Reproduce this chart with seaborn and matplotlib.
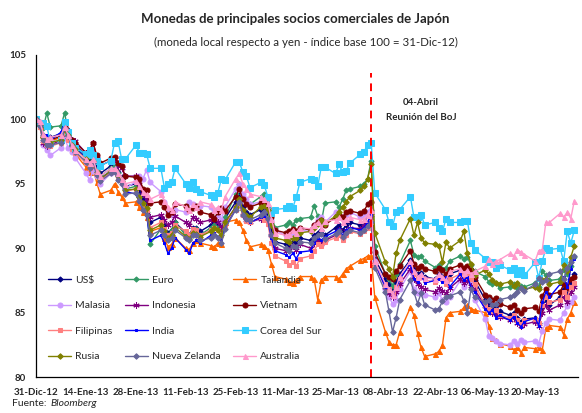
import pandas as pd
import matplotlib
matplotlib.use("Agg")
import matplotlib.pyplot as plt
import seaborn as sns

# -----------------------------
# Data: index of local currency vs yen (base 100 = 31-Dic-12), business days
# -----------------------------
dates = pd.bdate_range("2012-12-31", "2013-05-31")

usd = [100.0,
       99.8, 98.8, 98.5, 98.6,
       98.9, 99.6, 99.2, 98.4, 98.0,
       97.2, 96.8, 97.0, 96.3, 95.8,
       96.4, 96.2, 95.9, 95.5, 94.8,
       95.0, 94.4, 93.9, 93.5, 92.0,
       92.4, 91.8, 91.2, 91.4, 92.0,
       91.2, 91.0, 91.6, 91.6, 91.3,
       91.8, 92.0, 91.9, 91.5, 92.3,
       93.6, 94.1, 93.2, 92.8, 92.6,
       93.0, 93.0, 92.7, 91.5, 90.5,
       90.3, 90.2, 90.5, 90.4, 90.8,
       90.6, 91.0, 91.2, 91.4, 91.0,
       91.6, 91.8, 91.4, 91.8, 92.0,
       91.8, 92.0, 92.5, 93.0, 89.2,
       87.6, 87.2, 86.9, 87.4, 88.0,
       89.1, 88.4, 88.0, 88.1, 87.8,
       87.6, 88.0, 87.8, 87.4, 88.0,
       88.3, 88.0, 88.2, 87.9, 87.5,
       86.0, 85.6, 85.4, 85.5, 85.1,
       84.8, 85.0, 84.6, 84.3, 84.5,
       84.6, 84.2, 85.4, 86.0, 85.6,
       86.2, 86.8, 86.4, 87.4, 88.0]

euro = [100.0,
        99.6, 99.3, 100.5, 99.4,
        99.5, 100.5, 99.0, 98.4, 97.9,
        97.0, 96.6, 96.9, 96.0, 95.6,
        96.2, 96.4, 95.8, 95.4, 94.6,
        94.8, 94.0, 93.4, 92.8, 90.3,
        91.5, 91.2, 91.0, 91.4, 92.0,
        91.0, 90.8, 91.3, 91.5, 91.0,
        91.6, 91.8, 91.6, 91.2, 92.4,
        94.2, 95.0, 94.0, 93.6, 93.4,
        94.0, 94.2, 93.8, 92.6, 91.6,
        91.8, 92.0, 91.8, 92.2, 92.3,
        92.4, 93.3, 92.5, 92.0, 93.5,
        93.6, 93.2, 93.8, 94.5, 94.6,
        94.8, 95.0, 95.4, 96.8, 90.2,
        88.0, 87.6, 87.1, 88.0, 88.8,
        90.6, 89.5, 89.3, 89.4, 89.0,
        88.5, 88.7, 88.4, 88.5, 89.0,
        89.4, 89.2, 89.3, 88.7, 88.2,
        87.8, 87.4, 87.2, 87.3, 86.9,
        87.0, 87.2, 86.9, 87.1, 87.0,
        87.3, 87.0, 88.2, 87.9, 87.5,
        87.6, 88.3, 88.0, 88.6, 89.3]

tailandia = [100.0,
             99.5, 98.4, 98.6, 98.3,
             98.6, 99.6, 98.6, 97.8, 97.3,
             96.3, 95.9, 96.2, 95.1, 94.2,
             94.5, 95.0, 94.4, 94.0, 93.5,
             93.6, 93.2, 92.8, 92.4, 91.3,
             91.6, 90.8, 90.1, 90.3, 90.8,
             90.0, 89.9, 90.4, 90.6, 90.4,
             90.2, 90.1, 90.4, 90.3, 92.0,
             92.2, 92.0, 91.4, 90.6, 90.1,
             90.3, 90.2, 89.9, 88.8, 87.8,
             87.6, 87.4, 87.3, 87.5, 87.8,
             87.8, 87.6, 86.0, 87.5, 87.8,
             87.8, 87.6, 88.0, 88.4, 88.6,
             89.1, 89.2, 89.4, 89.4, 86.2,
             83.5, 82.7, 82.5, 82.5, 83.5,
             85.4, 84.8, 83.4, 82.3, 81.6,
             81.8, 82.0, 82.5, 84.6, 85.0,
             85.1, 85.4, 85.6, 85.3, 85.2,
             85.0, 84.0, 83.0, 82.9, 82.6,
             82.4, 82.1, 82.3, 81.9, 82.3,
             82.2, 82.3, 82.1, 83.8, 84.0,
             83.9, 83.3, 84.5, 85.0, 85.8]

malasia = [100.0,
           99.6, 98.0, 97.6, 97.2,
           97.8, 98.6, 97.8, 97.5, 97.0,
           95.8, 95.3, 96.0, 95.6, 95.0,
           95.8, 96.0, 95.6, 95.2, 94.6,
           95.2, 95.6, 95.4, 96.1, 95.1,
           94.4, 93.6, 92.8, 92.6, 93.0,
           92.8, 93.6, 93.4, 93.2, 93.3,
           93.2, 93.0, 92.6, 92.2, 93.2,
           94.6, 95.0, 94.2, 93.8, 93.4,
           93.6, 93.4, 93.0, 92.2, 91.4,
           91.0, 90.8, 91.2, 91.0, 91.4,
           91.3, 91.8, 92.2, 92.4, 92.0,
           92.8, 92.6, 92.4, 92.6, 92.8,
           92.4, 92.6, 92.8, 93.0, 89.0,
           86.8, 86.2, 85.7, 86.0, 86.8,
           88.2, 86.8, 86.5, 86.6, 86.4,
           86.2, 86.5, 86.0, 85.8, 86.2,
           87.5, 87.0, 88.0, 87.2, 86.0,
           84.5, 83.2, 83.0, 82.8, 82.6,
           82.5, 82.8, 82.6, 82.9, 82.7,
           82.8, 82.6, 83.6, 84.2, 84.5,
           84.4, 85.0, 85.5, 85.8, 86.2]

indonesia = [100.0,
             99.7, 98.2, 97.9, 98.0,
             98.4, 99.0, 98.6, 98.4, 98.3,
             97.4, 97.2, 98.2, 97.0, 96.4,
             96.8, 96.9, 96.4, 96.2, 95.6,
             95.6, 95.0, 94.2, 93.8, 92.4,
             92.6, 92.2, 91.8, 92.0, 92.5,
             92.0, 91.8, 92.4, 92.3, 92.0,
             92.2, 92.3, 92.0, 91.6, 92.0,
             93.2, 93.6, 92.6, 92.2, 92.0,
             92.3, 92.4, 92.2, 91.0, 90.0,
             89.8, 89.9, 90.2, 89.9, 90.3,
             90.0, 90.4, 90.6, 90.3, 90.6,
             91.0, 91.4, 90.9, 91.3, 91.6,
             91.5, 91.7, 92.0, 92.6, 88.8,
             87.0, 86.5, 86.2, 86.6, 87.2,
             88.4, 87.6, 87.2, 87.0, 86.8,
             86.6, 86.9, 86.7, 86.5, 86.9,
             87.6, 87.3, 87.5, 87.1, 86.8,
             85.5, 85.2, 85.0, 84.9, 84.7,
             84.4, 84.6, 84.2, 84.0, 84.1,
             84.3, 84.0, 85.0, 85.6, 85.2,
             85.6, 86.2, 85.8, 86.6, 87.0]

vietnam = [100.0,
           99.6, 98.6, 98.2, 98.4,
           98.7, 99.4, 99.0, 98.4, 98.2,
           97.4, 97.6, 98.2, 97.2, 96.6,
           97.0, 97.1, 96.6, 96.4, 95.6,
           95.5, 95.4, 94.6, 94.5, 93.5,
           93.6, 93.2, 92.6, 92.8, 93.4,
           93.3, 93.0, 93.1, 93.3, 92.8,
           92.6, 92.3, 92.8, 93.1, 92.9,
           94.0, 94.6, 93.8, 93.4, 93.2,
           93.5, 93.4, 93.1, 92.4, 91.4,
           91.2, 91.3, 91.5, 91.3, 91.6,
           91.4, 91.8, 92.0, 92.2, 91.8,
           92.4, 92.6, 92.4, 92.8, 92.9,
           92.7, 92.9, 93.4, 93.6, 89.7,
           88.0, 87.8, 87.6, 88.2, 88.6,
           89.8, 88.8, 88.5, 88.6, 88.4,
           88.2, 88.5, 88.3, 88.0, 88.4,
           88.7, 88.5, 88.6, 88.3, 87.8,
           86.4, 86.2, 86.0, 86.1, 85.7,
           85.4, 85.6, 85.2, 85.0, 85.3,
           85.4, 85.1, 86.3, 86.8, 86.4,
           86.6, 87.2, 86.9, 87.6, 87.8]

filipinas = [100.0,
             99.4, 98.3, 98.0, 97.9,
             98.2, 99.0, 98.4, 97.7, 97.4,
             96.6, 96.2, 96.6, 95.8, 95.3,
             95.9, 96.0, 95.4, 95.1, 94.4,
             94.6, 94.0, 93.4, 93.0, 91.6,
             92.0, 91.5, 91.0, 91.2, 91.8,
             91.3, 91.0, 91.5, 91.4, 91.0,
             91.4, 91.6, 91.4, 91.0, 91.8,
             93.0, 93.4, 92.6, 92.1, 92.0,
             92.4, 92.2, 91.9, 90.4, 89.4,
             89.0, 88.7, 88.9, 88.6, 89.2,
             89.4, 89.8, 90.3, 90.2, 90.5,
             90.8, 91.0, 90.6, 91.0, 91.3,
             91.1, 91.3, 91.6, 92.0, 88.8,
             87.2, 86.8, 86.5, 87.0, 87.6,
             88.8, 88.0, 87.7, 87.8, 87.5,
             87.4, 87.8, 87.6, 87.2, 87.6,
             88.0, 87.8, 88.0, 87.6, 87.2,
             85.6, 85.3, 85.1, 85.2, 84.8,
             84.6, 84.8, 84.4, 84.1, 84.4,
             84.5, 84.2, 85.6, 86.2, 85.8,
             86.0, 86.6, 86.2, 87.0, 87.3]

india = [100.0,
         99.7, 98.6, 98.8, 98.4,
         99.0, 99.8, 99.0, 98.2, 97.8,
         97.0, 96.6, 96.8, 95.8, 95.4,
         96.0, 96.2, 95.6, 95.0, 94.4,
         94.2, 93.6, 93.0, 92.6, 90.6,
         91.0, 90.4, 89.6, 90.0, 90.8,
         89.9, 89.6, 90.4, 90.6, 90.4,
         91.0, 91.2, 90.9, 90.6, 91.6,
         93.0, 93.6, 92.8, 92.2, 92.0,
         92.4, 92.5, 92.2, 90.8, 89.8,
         89.5, 89.3, 89.6, 89.2, 89.7,
         89.8, 90.4, 90.8, 90.6, 90.9,
         91.3, 91.5, 91.0, 91.4, 91.6,
         91.4, 91.6, 92.0, 92.6, 88.9,
         87.0, 86.8, 86.4, 86.9, 87.6,
         88.8, 87.6, 87.4, 88.0, 87.3,
         87.5, 87.6, 87.4, 87.8, 87.0,
         88.0, 87.5, 87.8, 87.0, 86.6,
         85.3, 85.0, 85.2, 84.6, 84.8,
         84.4, 84.7, 84.2, 83.9, 84.3,
         84.6, 84.0, 85.8, 86.6, 86.2,
         87.2, 87.8, 87.0, 88.4, 89.2]

corea = [100.0,
         99.7, 99.7, 99.5, 98.2,
         98.4, 99.8, 99.0, 98.2, 97.8,
         97.3, 97.6, 97.2, 96.8, 96.4,
         96.8, 98.2, 98.3, 96.9, 96.9,
         98.0, 97.4, 97.4, 97.3, 96.2,
         96.2, 94.7, 95.0, 95.1, 96.2,
         95.0, 94.7, 95.1, 94.6, 94.4,
         94.1, 94.0, 94.3, 95.4, 95.3,
         96.7, 96.7, 95.9, 95.6, 94.7,
         95.1, 94.9, 94.0, 92.7, 93.0,
         93.1, 93.3, 93.1, 94.0, 95.1,
         95.4, 95.3, 94.8, 96.3, 96.3,
         95.8, 96.5, 95.9, 96.0, 96.6,
         97.3, 97.5, 98.0, 98.2, 94.3,
         93.0, 92.0, 91.7, 92.8, 93.0,
         94.0, 92.4, 92.4, 92.6, 91.8,
         92.0, 91.6, 91.3, 92.3, 92.0,
         92.0, 92.1, 92.1, 90.4, 89.9,
         89.2, 88.9, 88.9, 88.5, 88.7,
         88.3, 88.5, 88.0, 88.3, 87.9,
         88.9, 87.7, 89.0, 90.0, 89.9,
         90.0, 89.0, 91.3, 90.4, 91.4]

rusia = [100.0,
         99.6, 98.6, 98.1, 98.2,
         98.4, 99.2, 98.8, 98.0, 97.7,
         96.9, 96.5, 96.8, 95.9, 95.4,
         96.0, 96.1, 95.6, 95.2, 94.5,
         94.6, 94.0, 93.5, 93.1, 91.4,
         91.8, 91.3, 90.8, 91.0, 91.6,
         90.9, 90.7, 91.2, 91.1, 90.9,
         91.3, 91.6, 91.4, 91.0, 92.0,
         93.2, 93.8, 93.0, 92.6, 92.4,
         93.2, 93.3, 93.0, 91.8, 90.8,
         90.6, 90.5, 90.8, 90.8, 91.2,
         91.3, 91.6, 91.9, 92.2, 91.9,
         92.5, 92.8, 93.2, 93.6, 94.0,
         94.5, 94.8, 95.4, 96.5, 91.2,
         88.9, 88.4, 87.8, 89.6, 90.6,
         92.3, 91.0, 92.0, 90.8, 90.4,
         90.3, 90.2, 88.9, 90.5, 90.0,
         90.6, 91.3, 89.6, 88.8, 87.9,
         88.3, 88.0, 87.5, 87.3, 87.2,
         87.4, 87.1, 87.3, 86.9, 86.8,
         87.0, 86.8, 87.5, 87.6, 87.2,
         87.4, 88.7, 88.2, 89.3, 90.2]

nueva_zelanda = [100.0,
                 99.5, 98.4, 98.0, 98.0,
                 98.2, 99.3, 98.7, 97.9, 97.5,
                 96.7, 96.2, 96.6, 95.7, 95.2,
                 95.8, 95.9, 95.3, 95.0, 94.2,
                 94.3, 93.7, 93.0, 92.6, 91.0,
                 91.4, 91.0, 90.6, 90.8, 91.4,
                 90.8, 90.6, 91.0, 91.0, 90.6,
                 90.8, 91.0, 90.8, 90.4, 91.5,
                 93.0, 93.6, 92.6, 92.3, 92.2,
                 92.6, 92.8, 92.3, 91.0, 90.4,
                 90.0, 89.8, 90.2, 90.1, 90.5,
                 90.4, 90.8, 91.0, 91.1, 90.7,
                 91.1, 91.3, 90.9, 91.2, 91.4,
                 91.2, 91.4, 91.7, 92.0, 88.5,
                 86.6, 85.1, 83.5, 84.6, 86.0,
                 87.5, 86.6, 85.7, 86.5, 85.6,
                 85.2, 85.3, 85.9, 86.2, 86.3,
                 86.6, 85.9, 85.0, 86.8, 86.2,
                 85.8, 86.0, 85.6, 85.7, 86.0,
                 86.2, 86.4, 86.6, 86.9, 86.7,
                 87.2, 87.7, 87.4, 87.5, 88.0,
                 88.2, 87.6, 88.5, 88.9, 89.4]

australia = [100.0,
             99.9, 98.9, 98.5, 98.6,
             98.8, 99.4, 98.8, 98.0, 97.6,
             96.9, 96.6, 96.9, 96.0, 95.6,
             96.2, 96.2, 95.8, 95.4, 95.0,
             95.2, 94.8, 94.4, 94.2, 93.8,
             94.2, 93.7, 93.2, 93.0, 93.6,
             93.2, 93.0, 93.4, 93.2, 93.6,
             93.4, 93.0, 93.2, 93.0, 94.0,
             95.4, 95.8, 95.0, 94.6, 94.2,
             94.0, 93.8, 93.5, 92.3, 91.2,
             91.0, 91.1, 91.4, 91.2, 91.6,
             91.5, 91.8, 92.0, 91.6, 92.1,
             92.2, 92.4, 92.0, 92.3, 92.4,
             92.2, 92.3, 92.6, 93.0, 89.0,
             87.2, 86.8, 86.4, 87.0, 87.8,
             89.0, 88.2, 87.8, 88.0, 87.7,
             87.6, 88.0, 87.8, 87.5, 88.2,
             88.4, 88.1, 88.3, 88.0, 88.2,
             88.6, 89.2, 88.8, 89.0, 89.1,
             89.6, 89.4, 89.9, 89.7, 89.5,
             89.0, 89.8, 89.9, 92.0, 92.0,
             92.7, 92.4, 92.8, 92.3, 93.7]

tick_labels = ["31-Dic-12", "14-Ene-13", "28-Ene-13", "11-Feb-13", "25-Feb-13",
               "11-Mar-13", "25-Mar-13", "08-Abr-13", "22-Abr-13", "06-May-13",
               "20-May-13"]
tick_dates = pd.date_range("2012-12-31", periods=len(tick_labels), freq="14D")
boj_date = pd.Timestamp("2013-04-04")

# name, values, colour, marker, marker size
series = [
    ("US$", usd, "#000080", "D", 2.6),
    ("Euro", euro, "#339966", "D", 2.6),
    ("Tailandia", tailandia, "#FF6600", "^", 3.6),
    ("Malasia", malasia, "#CC99FF", "o", 3.6),
    ("Indonesia", indonesia, "#800080", (6, 2, 0), 4.5),
    ("Vietnam", vietnam, "#800000", "o", 3.6),
    ("Filipinas", filipinas, "#FF8080", "s", 2.6),
    ("India", india, "#0000FF", "s", 2.0),
    ("Corea del Sur", corea, "#33CCFF", "s", 4.0),
    ("Rusia", rusia, "#808000", "D", 2.8),
    ("Nueva Zelanda", nueva_zelanda, "#666699", "D", 2.8),
    ("Australia", australia, "#FF99CC", "^", 3.6),
]

# -----------------------------
# Plot
# -----------------------------
sns.set_style("white")
plt.rcParams["font.family"] = ["Lato", "DejaVu Sans"]

fig = plt.figure(figsize=(5.82, 4.13), dpi=100)
ax = fig.add_axes([0.062, 0.087, 0.931, 0.78])

for name, vals, color, marker, ms in series:
    sns.lineplot(x=dates, y=vals, ax=ax, color=color, marker=marker,
                 markersize=ms, markeredgecolor=color, markerfacecolor=color,
                 linewidth=1.0, label=name)

ax.vlines(boj_date, 80, 103.6, colors="red", linestyles=(0, (4, 3)), linewidth=1.4)
ax.text(pd.Timestamp("2013-04-18"), 100.75, "04-Abril\nReunión del BoJ",
        ha="center", va="center", fontsize=7, fontweight="bold", linespacing=1.9)

ax.set_ylim(80, 105)
ax.set_yticks([80, 85, 90, 95, 100, 105])
ax.set_xlim(pd.Timestamp("2012-12-31"), pd.Timestamp("2013-06-01"))
ax.set_xticks(tick_dates)
ax.set_xticklabels(tick_labels)
for lbl in ax.get_xticklabels() + ax.get_yticklabels():
    lbl.set_fontweight("bold")
    lbl.set_fontsize(7)
ax.tick_params(axis="x", direction="in", length=4, width=0.8, pad=8, color="black")
ax.tick_params(axis="y", direction="out", length=3, width=0.8, pad=4, color="black")
ax.set_xlabel("")
ax.set_ylabel("")
ax.grid(False)
sns.despine(ax=ax)
for side in ["left", "bottom"]:
    ax.spines[side].set_color("black")
    ax.spines[side].set_linewidth(0.9)

# legend: 3 columns, filled row by row
handles, labels = ax.get_legend_handles_labels()
order = [0, 3, 6, 9, 1, 4, 7, 10, 2, 5, 8, 11]
ax.legend([handles[i] for i in order], [labels[i] for i in order],
          ncol=3, loc="lower left", bbox_to_anchor=(0.005, 0.02), frameon=False,
          fontsize=7.5, labelspacing=1.55, columnspacing=1.2, handlelength=2.2,
          handletextpad=0.4)

fig.text(0.507, 0.955, "Monedas de principales socios comerciales de Japón",
         ha="center", va="center", fontsize=9.5, fontweight="bold")
fig.text(0.525, 0.896, "(moneda local respecto a yen - índice base 100 = 31-Dic-12)",
         ha="center", va="center", fontsize=8.3)
fig.text(0.02, 0.012, "Fuente: ", ha="left", va="bottom", fontsize=7.5)
fig.text(0.086, 0.012, "Bloomberg", ha="left", va="bottom", fontsize=7.5, style="italic")

plt.savefig("out.png", dpi=100)
plt.close()
